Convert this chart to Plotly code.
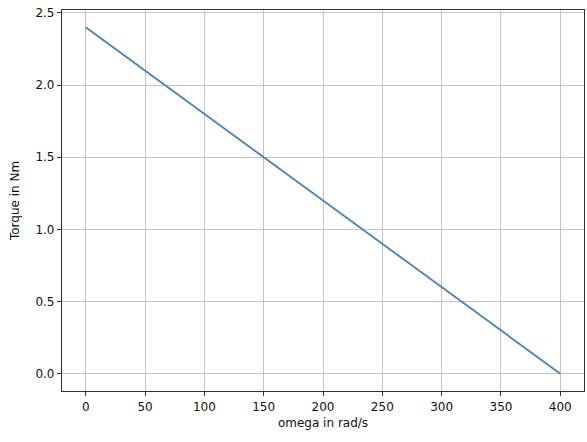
import plotly.graph_objects as go

omega = [0, 50, 100, 150, 200, 250, 300, 350, 400]
torque = [2.4, 2.1, 1.8, 1.5, 1.2, 0.9, 0.6, 0.3, 0.0]

x_ticks = [0, 50, 100, 150, 200, 250, 300, 350, 400]
y_ticks = [0.0, 0.5, 1.0, 1.5, 2.0, 2.5]

fig = go.Figure()
fig.add_trace(go.Scatter(x=omega, y=torque, mode="lines",
                         line=dict(color="#4a7fc1", width=1.8)))

ax_style = dict(showline=True, linecolor="#333333", linewidth=1.2, mirror=True,
                ticks="outside", ticklen=4, tickcolor="#333333",
                showgrid=True, gridcolor="#c4c4c4", gridwidth=1,
                zeroline=False, automargin=False, ticklabeloverflow="allow",
                tickfont=dict(size=12, color="#111111"),
                title_font=dict(size=12, color="#111111"))

fig.update_xaxes(range=[-20, 420], tickvals=x_ticks,
                 ticktext=[str(v) for v in x_ticks],
                 title_text="omega in rad/s", title_standoff=6, **ax_style)
fig.update_yaxes(range=[-0.12, 2.52], tickvals=y_ticks,
                 ticktext=[f"{v:.1f}" for v in y_ticks],
                 title_text="Torque in Nm", title_standoff=13, **ax_style)

fig.update_layout(width=587, height=442, showlegend=False,
                  margin=dict(l=62, r=3, t=10, b=51),
                  plot_bgcolor="white", paper_bgcolor="white",
                  font=dict(family="DejaVu Sans", color="#111111"))

# drop the default page margin so the figure fills the window
fig.write_html("out.html", config={"displayModeBar": False},
               post_script="document.body.style.margin='0';")
